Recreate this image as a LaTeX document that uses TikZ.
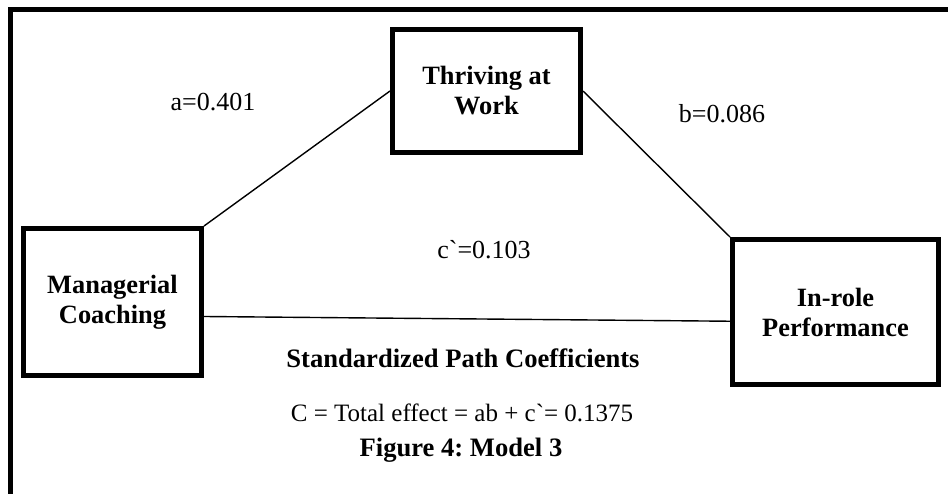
\documentclass[tikz,border=0pt]{standalone}
\usepackage{fontspec}
\setmainfont{Liberation Serif}[Ligatures=TeXOff]
\frenchspacing
\tikzset{var/.style={draw,line width=2.5pt,align=center,font=\fontsize{13.2}{15}\selectfont\bfseries},
lbl/.style={font=\fontsize{13}{15}\selectfont}}
\begin{document}
\begin{tikzpicture}[x=0.5pt,y=-0.5pt]
\useasboundingbox (0,0) rectangle (948,493);
\draw[line width=2.5pt](10.5,505)--(10.5,9)--(960,9);
\node[var,minimum width=89pt,minimum height=73.5pt](mc) at(112.5,302){Managerial\\Coaching};
\node[var,minimum width=94pt,minimum height=61.5pt](tw) at(486.5,91){Thriving at\\Work};
\node[var,minimum width=103pt,minimum height=72.5pt](ip) at(835.5,312){In-role\\Performance};
\draw[line width=0.7pt](mc.north east)--(tw.west);
\draw[line width=0.7pt](tw.east)--(ip.north west);
\draw[line width=0.7pt](mc.-9)--(ip.185);
\node[lbl](la) at(213,102){a=0.401};
\node[lbl](lb) at(722,114){b=0.086};
\node[lbl](lc) at(484,250){c`=0.103};
\node[lbl,font=\fontsize{13.3}{15}\selectfont\bfseries](t1) at(463,358){Standardized Path Coefficients};
\node[lbl,font=\fontsize{12.5}{15}\selectfont](t2) at(462,413){C = Total effect = ab + c`= 0.1375};
\node[lbl,font=\fontsize{13.3}{15}\selectfont\bfseries](t3) at(461,450){Figure 4: Model 3};
\end{tikzpicture}
\end{document}
